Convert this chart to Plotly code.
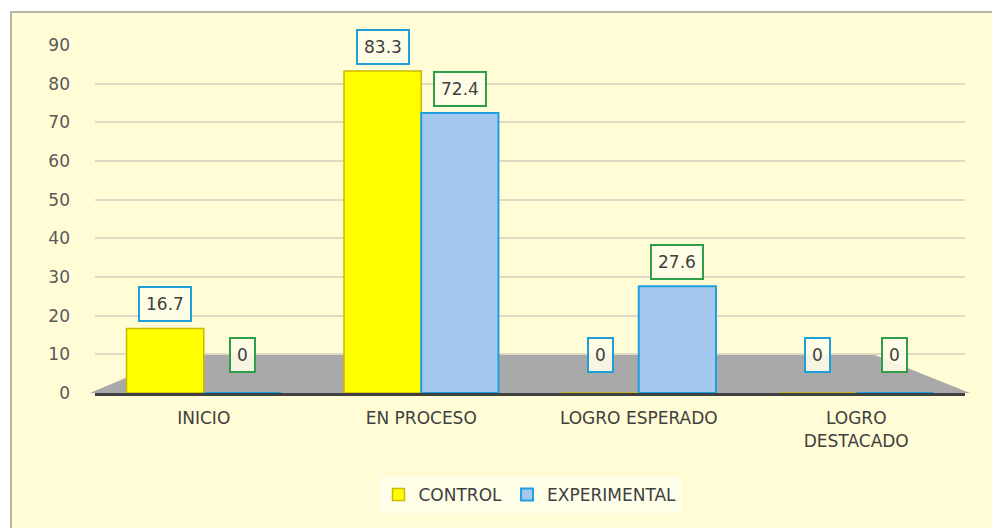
import plotly.graph_objects as go

categories = ["INICIO", "EN PROCESO", "LOGRO ESPERADO", "LOGRO<br>DESTACADO"]
control = [16.7, 83.3, 0, 0]
experimental = [0, 72.4, 27.6, 0]
series_names = ["CONTROL", "EXPERIMENTAL"]
y_ticks = [0, 10, 20, 30, 40, 50, 60, 70, 80, 90]

x_pos = list(range(len(categories)))
BARGAP = 0.29
half = (1 - BARGAP) / 4  # offset of each bar centre from category centre

# page geometry (the page body adds an 8px offset)
OFF = 8
W, H = 1000 - OFF, 528 - OFF
PL, PT, PR, PB = 95, 45, 965, 393   # plot area in page pixels
PW, PH = PR - PL, PB - PT

def px(x):
    return (x - PL) / PW

def py(y):
    return (PB - y) / PH

FONT = "DejaVu Sans"

fig = go.Figure()
fig.add_trace(go.Bar(
    x=x_pos, y=control, name=series_names[0],
    marker=dict(color="#FFFF00", line=dict(color="#CDB800", width=1.5)),
))
fig.add_trace(go.Bar(
    x=x_pos, y=experimental, name=series_names[1],
    marker=dict(color="#A4C8EE", line=dict(color="#1E9FE0", width=2)),
))

shapes = [
    # chart background
    dict(type="rect", xref="paper", yref="paper", x0=px(11), x1=px(1010), y0=py(540), y1=py(12),
         fillcolor="#FFFCD6", line=dict(width=0), layer="below"),
    # chart frame (top and left edges visible)
    dict(type="path", xref="paper", yref="paper",
         path=f"M {px(11)} {py(540)} L {px(11)} {py(12)} L {px(1010)} {py(12)}",
         line=dict(color="#B8B5A6", width=2), layer="below"),
    # gray floor
    dict(type="path", xref="paper", yref="paper",
         path=f"M {px(90)} {py(393)} L {px(180)} {py(355)} L {px(875)} {py(355)} L {px(970)} {py(393)} Z",
         fillcolor="#A9A9A9", line=dict(width=0), layer="below"),
]

annotations = []
for vals, off, border in [(control, -half, "#1E9FD8"), (experimental, half, "#2E9E4A")]:
    for i, v in enumerate(vals):
        annotations.append(dict(
            x=i + off, y=v, xref="x", yref="y", text=f"{v:g}", showarrow=False,
            yanchor="bottom", yshift=20 if v == 0 else 6,
            font=dict(size=17, color="#404040", family=FONT),
            bordercolor=border, borderwidth=2, borderpad=6, bgcolor="rgba(255,253,232,0.9)",
        ))

fig.update_layout(
    width=W, height=H,
    margin=dict(l=PL - OFF, r=W - (PR - OFF), t=PT - OFF, b=H - (PB - OFF)),
    paper_bgcolor="white",
    plot_bgcolor="rgba(0,0,0,0)",
    barmode="group", bargap=BARGAP, bargroupgap=0,
    font=dict(family=FONT, color="#404040", size=17),
    shapes=shapes,
    annotations=annotations,
    showlegend=True,
    legend=dict(orientation="h", x=0.5, xanchor="center", y=py(495), yanchor="middle",
                bgcolor="#FFFEE8", font=dict(size=17, color="#404040", family=FONT),
                itemwidth=30, traceorder="normal"),
    xaxis=dict(
        tickmode="array", tickvals=x_pos, ticktext=categories,
        range=[-0.5, len(categories) - 0.5],
        showgrid=False, zeroline=False,
        showline=True, linecolor="#404040", linewidth=3,
        ticks="", tickfont=dict(size=17, color="#404040", family=FONT),
        ticklabelstandoff=8,
    ),
    yaxis=dict(
        range=[0, 90], tickvals=y_ticks,
        showgrid=True, gridcolor="#DEDAC4", gridwidth=1.5,
        zeroline=False, showline=False, ticks="",
        tickfont=dict(size=17, color="#595959", family=FONT),
        ticklabelstandoff=24,
    ),
)

fig.write_html("out.html")
